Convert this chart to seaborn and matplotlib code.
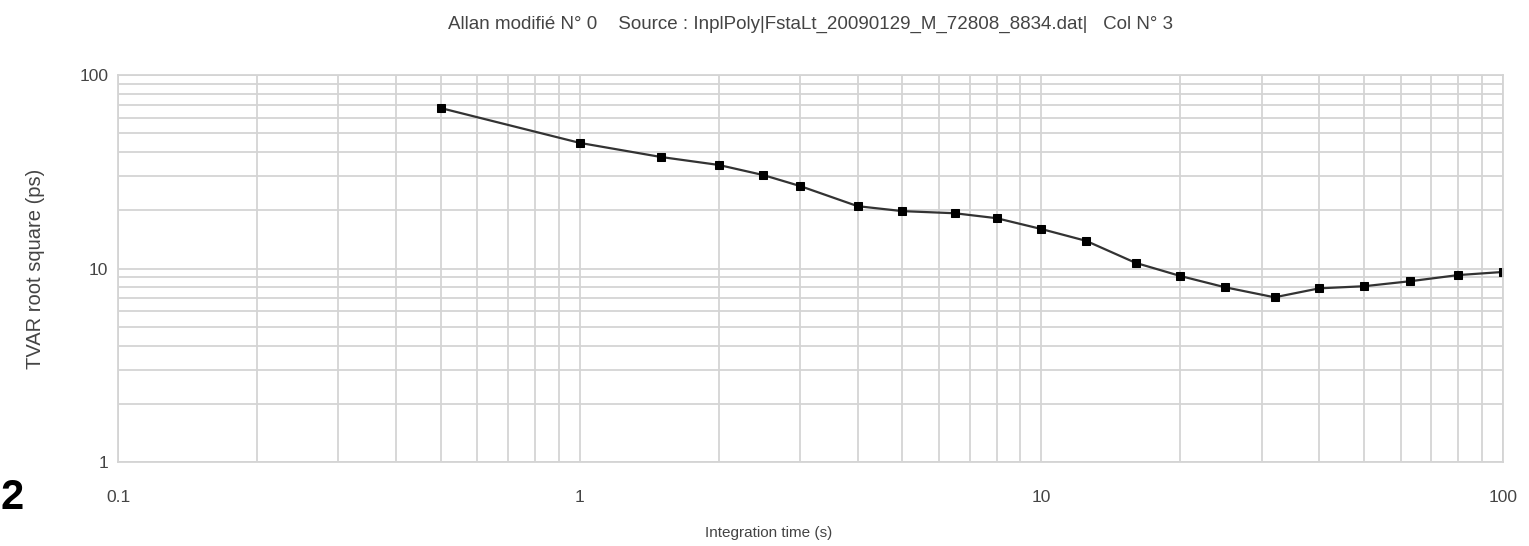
# allan_tvar.py
# TVAR root square vs integration time, log-log

import numpy as np
import pandas as pd
import matplotlib
matplotlib.use("Agg")
import matplotlib.pyplot as plt
import matplotlib.ticker as mticker
import seaborn as sns

# values
tau = [0.5, 1, 1.5, 2, 2.5, 3, 4, 5, 6.5, 8, 10, 12.5, 16, 20, 25, 32, 40, 50, 63, 80, 100]
tvar = [67.5, 44.6, 37.7, 34.3, 30.4, 26.7, 21.0, 19.8, 19.3, 18.2, 16.0, 13.9, 10.7,
        9.15, 8.0, 7.1, 7.9, 8.1, 8.6, 9.25, 9.6]

x_ticks = [0.1, 1, 10, 100]
x_tick_labels = ["0.1", "1", "10", "100"]
y_ticks = [1, 10, 100]
y_tick_labels = ["1", "10", "100"]

title = "Allan modifié N° 0    Source : InplPoly|FstaLt_20090129_M_72808_8834.dat|   Col N° 3"

df = pd.DataFrame({"tau": tau, "tvar": tvar})

sns.set_style("white")
plt.rcParams["font.family"] = ["Liberation Sans", "DejaVu Sans"]

fig = plt.figure(figsize=(15.29, 5.46), dpi=100)
ax = fig.add_axes([0.0772, 0.1538, 0.9058, 0.7088])

sns.lineplot(data=df, x="tau", y="tvar", ax=ax, color="#333333", linewidth=1.6,
             marker="s", markersize=6, markerfacecolor="black", markeredgecolor="black")

ax.set_xscale("log")
ax.set_yscale("log")
ax.set_xlim(0.1, 100)
ax.set_ylim(1, 100)

ax.xaxis.set_major_locator(mticker.FixedLocator(x_ticks))
ax.xaxis.set_major_formatter(mticker.FixedFormatter(x_tick_labels))
ax.yaxis.set_major_locator(mticker.FixedLocator(y_ticks))
ax.yaxis.set_major_formatter(mticker.FixedFormatter(y_tick_labels))
ax.xaxis.set_minor_locator(mticker.LogLocator(base=10, subs=np.arange(2, 10)))
ax.yaxis.set_minor_locator(mticker.LogLocator(base=10, subs=np.arange(2, 10)))
ax.xaxis.set_minor_formatter(mticker.NullFormatter())
ax.yaxis.set_minor_formatter(mticker.NullFormatter())

ax.grid(True, which="both", color="#d4d4d4", linewidth=1.3)
ax.set_axisbelow(True)
ax.tick_params(which="both", length=0)
ax.tick_params(axis="x", pad=20, labelsize=12.5, colors="#444444")
ax.tick_params(axis="y", pad=7, labelsize=12.5, colors="#444444")
for s in ax.spines.values():
    s.set_color("#d4d4d4")
    s.set_linewidth(1.3)

ax.set_xlabel("Integration time (s)", fontsize=11, color="#444444")
ax.xaxis.set_label_coords(0.47, -0.165)
ax.set_ylabel("TVAR root square (ps)", fontsize=14.5, color="#444444")
ax.yaxis.set_label_coords(-0.053, 0.5)
ax.set_title(title, fontsize=13.5, color="#444444", pad=33)

# cut-off character at the left edge of the original image
fig.text(0.008, 0.068, "2", fontsize=30, fontweight="bold", color="black", ha="center")

fig.savefig("out.png", dpi=100)
